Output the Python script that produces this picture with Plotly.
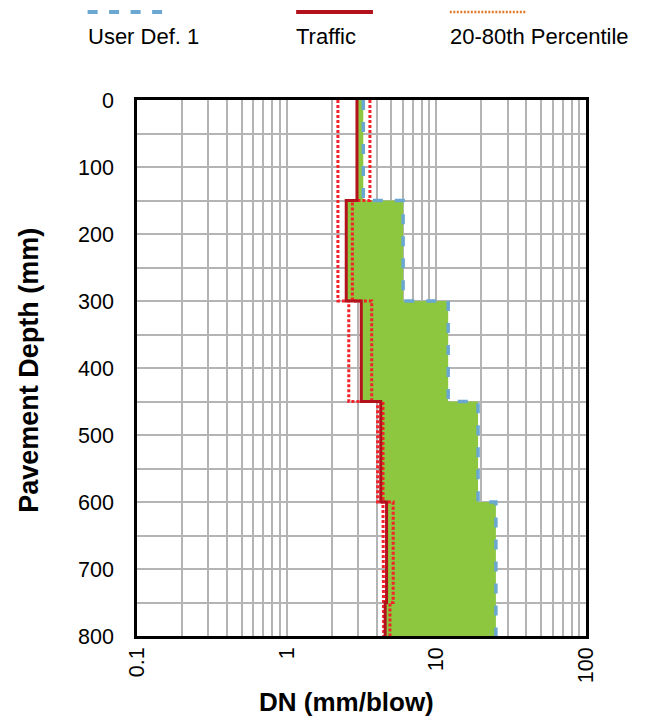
import plotly.graph_objects as go

# ---------------- data ----------------
layer_top = [0, 150, 300, 450, 600, 750]
layer_bottom = [150, 300, 450, 600, 750, 800]
user_def_1 = [3.25, 6.0, 12.0, 19.0, 25.0, 25.0]
traffic = [2.95, 2.5, 3.15, 4.25, 4.65, 4.55]
pct_20 = [2.2, 2.2, 2.6, 4.05, 4.4, 4.45]
pct_80 = [3.6, 2.75, 3.7, 4.4, 5.15, 4.9]

legend_names = ["User Def. 1", "Traffic", "20-80th Percentile"]


def step(values):
    xs, ys = [], []
    for v, t, b in zip(values, layer_top, layer_bottom):
        xs += [v, v]
        ys += [t, b]
    return xs, ys


FONT = "Liberation Sans, Arial, sans-serif"
BLUE = "#6AA8D2"
RED_DARK = "#B3121C"
RED_DOT = "#F2232A"
GREEN = "#8DC63F"
ORANGE = "#E07A2A"

fig = go.Figure()

tx, ty = step(traffic)
ux, uy = step(user_def_1)
p20x, p20y = step(pct_20)
p80x, p80y = step(pct_80)

fig.add_trace(go.Scatter(x=tx, y=ty, mode="lines", line=dict(width=0, color=GREEN),
                         showlegend=False, hoverinfo="skip"))
fig.add_trace(go.Scatter(x=ux, y=uy, mode="lines", line=dict(width=0, color=GREEN),
                         fill="tonextx", fillcolor=GREEN, showlegend=False, hoverinfo="skip"))
fig.add_trace(go.Scatter(x=p20x, y=p20y, mode="lines",
                         line=dict(color=RED_DOT, width=3, dash="3px,2px"), showlegend=False))
fig.add_trace(go.Scatter(x=p80x, y=p80y, mode="lines",
                         line=dict(color=RED_DOT, width=3, dash="3px,2px"), showlegend=False))
fig.add_trace(go.Scatter(x=tx, y=ty, mode="lines",
                         line=dict(color=RED_DARK, width=3), showlegend=False))
fig.add_trace(go.Scatter(x=ux, y=uy, mode="lines",
                         line=dict(color=BLUE, width=3.5, dash="10px,12px"), showlegend=False))

# screen-pixel geometry of the plot area (page has an 8px body margin)
OFF = 8
L, R, T, B = 136.5, 586.5, 100.0, 636.0


def px(x):
    return (x - L) / (R - L)


def py(y):
    return (B - y) / (B - T)


shapes = [
    dict(type="line", xref="paper", yref="paper", x0=px(87), x1=px(163), y0=py(12), y1=py(12),
         line=dict(color=BLUE, width=4, dash="10px,11.5px")),
    dict(type="line", xref="paper", yref="paper", x0=px(296), x1=px(373), y0=py(12), y1=py(12),
         line=dict(color=RED_DARK, width=4)),
    dict(type="line", xref="paper", yref="paper", x0=px(450), x1=px(527), y0=py(12), y1=py(12),
         line=dict(color=ORANGE, width=2.5, dash="2px,1.5px")),
]
annotations = []
for name, x0 in zip(legend_names, [85, 294, 448]):
    annotations.append(dict(text=name, xref="paper", yref="paper", x=px(x0), y=py(37),
                            xanchor="left", yanchor="middle", showarrow=False,
                            font=dict(family=FONT, size=22, color="#000000")))
annotations.append(dict(text="<b>DN (mm/blow)</b>", xref="paper", yref="paper",
                        x=px(346.5), y=py(702), xanchor="center", yanchor="middle",
                        showarrow=False, font=dict(family=FONT, size=26, color="#000000")))
annotations.append(dict(text="<b>Pavement Depth (mm)</b>", xref="paper", yref="paper",
                        x=px(28), y=py(370), xanchor="center", yanchor="middle", textangle=-90,
                        showarrow=False, font=dict(family=FONT, size=27, color="#000000")))

fig.update_layout(
    width=645 - OFF, height=720 - OFF,
    margin=dict(l=L - OFF, r=645 - R, t=T - OFF, b=720 - B, pad=0),
    paper_bgcolor="white", plot_bgcolor="white",
    showlegend=False,
    shapes=shapes, annotations=annotations,
    font=dict(family=FONT, size=20, color="#000000"),
)
fig.update_xaxes(
    type="log", range=[-1, 2], dtick=1, tickangle=-90,
    showgrid=True, gridcolor="#B4B4B4", gridwidth=1.5,
    minor=dict(dtick="D1", showgrid=True, gridcolor="#B4B4B4", gridwidth=1.5),
    showline=True, linecolor="#000000", linewidth=2.5, mirror=True,
    ticks="", ticklabelstandoff=0,
    tickfont=dict(family=FONT, size=21.5, color="#000000"),
    zeroline=False,
)
fig.update_yaxes(
    range=[800, 0], dtick=100, tick0=0,
    showgrid=True, gridcolor="#B4B4B4", gridwidth=1.5,
    minor=dict(dtick=50, showgrid=True, gridcolor="#B4B4B4", gridwidth=1.5),
    showline=True, linecolor="#000000", linewidth=2.5, mirror=True,
    ticks="", ticklabelstandoff=16,
    tickfont=dict(family=FONT, size=21.5, color="#000000"),
    zeroline=False,
)

fig.write_html("out.html")
